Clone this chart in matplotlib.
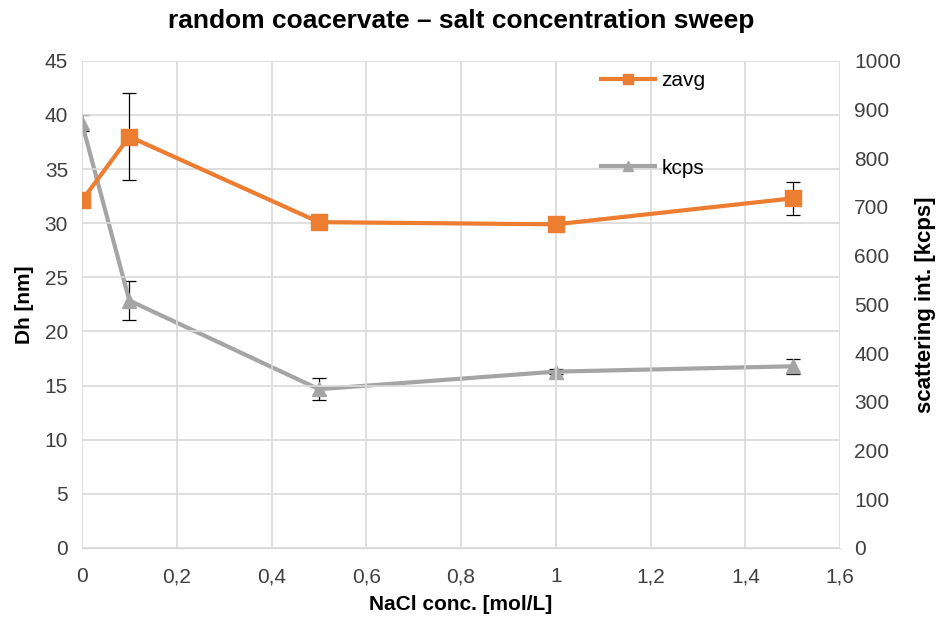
import matplotlib.pyplot as plt
from matplotlib.lines import Line2D
from matplotlib.ticker import FuncFormatter

plt.rcParams['font.family'] = ['Liberation Sans', 'DejaVu Sans']

# data
nacl = [0, 0.1, 0.5, 1.0, 1.5]
zavg = [32.1, 38.0, 30.1, 29.9, 32.3]
zavg_err = [0.0, 4.0, 0.3, 0.3, 1.5]
kcps = [872, 508, 326, 362, 373]
kcps_err = [17, 40, 22, 5, 15]

orange = '#ED7D31'
grey = '#A5A5A5'
grid = '#D9D9D9'


def comma(v, pos):
    s = ('%.1f' % v).rstrip('0').rstrip('.')
    return s.replace('.', ',')


fig, ax = plt.subplots(figsize=(9.42, 6.21), dpi=100)
fig.subplots_adjust(left=0.087, right=0.892, top=0.902, bottom=0.1176)
ax2 = ax.twinx()

ax.set_zorder(ax2.get_zorder() + 1)
ax.patch.set_visible(False)

ax2.errorbar(nacl, kcps, yerr=kcps_err, color=grey, lw=3, marker='^', ms=10,
             ecolor='black', elinewidth=0.9, capsize=5, capthick=0.9)
ax.errorbar(nacl, zavg, yerr=zavg_err, color=orange, lw=3, marker='s', ms=11,
            ecolor='black', elinewidth=0.9, capsize=5, capthick=0.9)

ax.set_xlim(0, 1.6)
ax.set_ylim(0, 45)
ax2.set_ylim(0, 1000)
ax.set_xticks([0, 0.2, 0.4, 0.6, 0.8, 1.0, 1.2, 1.4, 1.6])
ax.set_yticks(range(0, 46, 5))
ax2.set_yticks(range(0, 1001, 100))
ax.xaxis.set_major_formatter(FuncFormatter(comma))

ax.grid(True, color=grid, lw=1.2)
ax.set_axisbelow(True)
for a in (ax, ax2):
    for s in a.spines.values():
        s.set_visible(False)
    a.spines['bottom'].set_visible(True)
    a.spines['bottom'].set_color(grid)
    a.tick_params(length=0, labelsize=15, colors='#404040', pad=10)
ax.tick_params(axis='x', pad=14)

ax.set_xlabel('NaCl conc. [mol/L]', fontsize=15, fontweight='bold', labelpad=6)
ax.set_ylabel('Dh [nm]', fontsize=15, fontweight='bold', labelpad=8)
ax2.set_ylabel('scattering int. [kcps]', fontsize=16, fontweight='bold', labelpad=10)
ax.set_title('random coacervate \u2013 salt concentration sweep', fontsize=19,
             fontweight='bold', pad=24)

h1 = Line2D([], [], color=orange, lw=3, marker='s', ms=7)
h2 = Line2D([], [], color=grey, lw=3, marker='^', ms=7)
leg1 = ax.legend([h1], ['zavg'], loc='center left', bbox_to_anchor=(0.66, 0.96),
                 frameon=False, fontsize=15, handlelength=2.6, handletextpad=0.3)
ax.add_artist(leg1)
ax.legend([h2], ['kcps'], loc='center left', bbox_to_anchor=(0.66, 0.78),
          frameon=False, fontsize=15, handlelength=2.6, handletextpad=0.3)

plt.savefig('out.png', dpi=100)
